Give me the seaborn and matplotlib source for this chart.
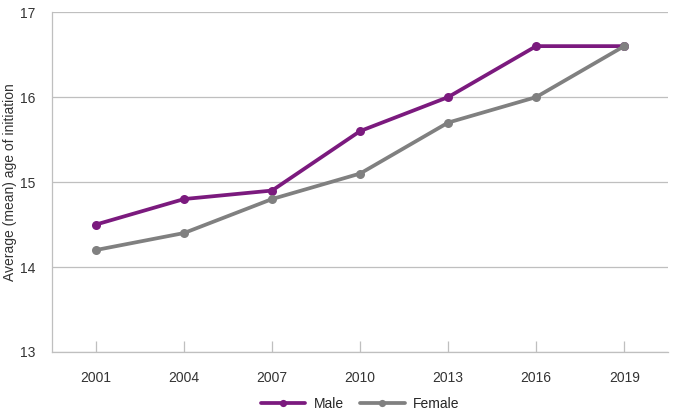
import pandas as pd
import matplotlib.pyplot as plt
import seaborn as sns

years = ["2001", "2004", "2007", "2010", "2013", "2016", "2019"]
male = [14.5, 14.8, 14.9, 15.6, 16.0, 16.6, 16.6]
female = [14.2, 14.4, 14.8, 15.1, 15.7, 16.0, 16.6]

df = pd.DataFrame({
    "year": years * 2,
    "age": male + female,
    "sex": ["Male"] * len(years) + ["Female"] * len(years),
})

sns.set_style("white")
plt.rcParams['font.family'] = ['Liberation Sans', 'DejaVu Sans']

fig = plt.figure(figsize=(6.75, 4.19), dpi=100)
ax = fig.add_axes([0.077, 0.16, 0.913, 0.811])

palette = {"Male": "#7b1a7e", "Female": "#808080"}
sns.lineplot(data=df, x="year", y="age", hue="sex", palette=palette,
             marker="o", markersize=6.5, markeredgewidth=0, linewidth=2.7,
             sort=False, ax=ax)

ax.set_xlim(-0.5, len(years) - 0.5)
ax.set_ylim(13, 17)
ax.set_yticks([13, 14, 15, 16, 17])
ax.yaxis.grid(True, color="#bfbfbf", linewidth=0.9)
ax.set_axisbelow(True)
for s in ["top", "right"]:
    ax.spines[s].set_visible(False)
for s in ["left", "bottom"]:
    ax.spines[s].set_color("#bfbfbf")
    ax.spines[s].set_linewidth(0.9)
ax.tick_params(axis="x", bottom=True, direction="in", length=8, width=0.9,
               color="#bfbfbf", labelsize=10, pad=14, labelcolor="#333333")
ax.tick_params(axis="y", left=False, length=0, labelsize=10, pad=12, labelcolor="#333333")
ax.set_xlabel("")
ax.set_ylabel("Average (mean) age of initiation", fontsize=10, color="#333333", labelpad=2)

ax.legend(loc="upper center", bbox_to_anchor=(0.5, -0.095), ncol=2, frameon=False,
          fontsize=10, handlelength=3.2, columnspacing=1.2, handletextpad=0.6, markerscale=0.8)

fig.savefig("out.png", dpi=100)
